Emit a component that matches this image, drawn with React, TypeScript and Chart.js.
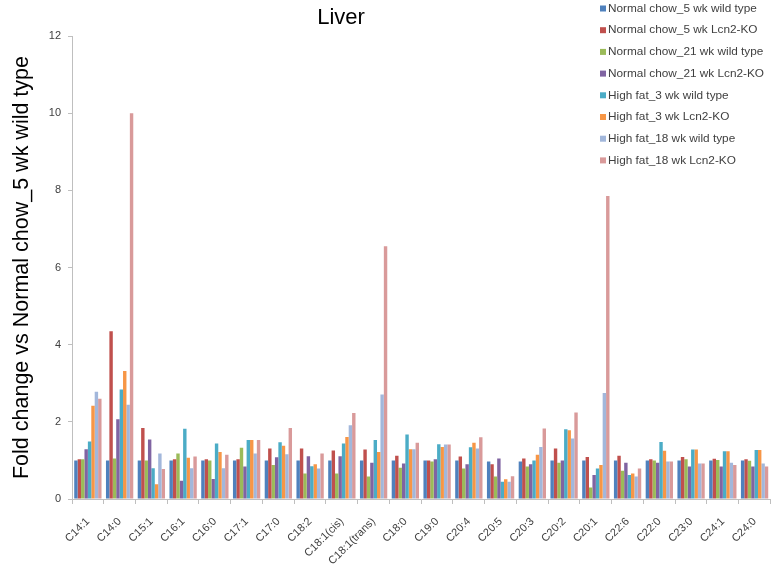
import React, { useEffect, useRef } from 'react';
import { Chart, registerables } from 'chart.js';

Chart.register(...registerables);

const FONT = '"Liberation Sans", Arial, sans-serif';

const categories = [
  'C14:1', 'C14:0', 'C15:1', 'C16:1', 'C16:0', 'C17:1', 'C17:0', 'C18:2',
  'C18:1(cis)', 'C18:1(trans)', 'C18:0', 'C19:0', 'C20:4', 'C20:5', 'C20:3',
  'C20:2', 'C20:1', 'C22:6', 'C22:0', 'C23:0', 'C24:1', 'C24:0',
];

const seriesLabels = [
  'Normal chow_5 wk wild type',
  'Normal chow_5 wk Lcn2-KO',
  'Normal chow_21 wk wild type',
  'Normal chow_21 wk Lcn2-KO',
  'High fat_3 wk wild type',
  'High fat_3 wk Lcn2-KO',
  'High fat_18 wk wild type',
  'High fat_18 wk Lcn2-KO',
];

const seriesColors = [
  '#4F81BD', '#C0504D', '#9BBB59', '#8064A2',
  '#4BACC6', '#F79646', '#A2B7DB', '#D99A9A',
];

const nc5Wt = [1.0, 1.0, 1.0, 1.0, 1.0, 1.0, 1.0, 1.0, 1.0, 1.0, 1.0, 1.0, 1.0, 0.97, 0.97, 1.0, 1.0, 1.0, 1.0, 1.0, 1.0, 1.0];
const nc5Ko = [1.03, 4.35, 1.84, 1.03, 1.03, 1.03, 1.31, 1.31, 1.26, 1.28, 1.12, 1.0, 1.1, 0.9, 1.05, 1.31, 1.09, 1.12, 1.03, 1.09, 1.04, 1.03];
const nc21Wt = [1.03, 1.05, 1.0, 1.18, 1.0, 1.33, 0.88, 0.66, 0.66, 0.58, 0.81, 0.97, 0.79, 0.58, 0.84, 0.94, 0.3, 0.73, 1.0, 1.03, 1.01, 0.99];
const nc21Ko = [1.29, 2.07, 1.54, 0.47, 0.52, 0.84, 1.08, 1.11, 1.11, 0.94, 0.92, 1.03, 0.9, 1.05, 0.9, 1.0, 0.62, 0.94, 0.94, 0.84, 0.84, 0.84];
const hf3Wt = [1.49, 2.84, 0.8, 1.82, 1.44, 1.53, 1.47, 0.85, 1.44, 1.53, 1.67, 1.42, 1.34, 0.45, 1.0, 1.81, 0.79, 0.62, 1.48, 1.28, 1.24, 1.27];
const hf3Ko = [2.42, 3.32, 0.38, 1.07, 1.22, 1.53, 1.38, 0.9, 1.61, 1.22, 1.29, 1.35, 1.46, 0.51, 1.15, 1.78, 0.88, 0.66, 1.25, 1.28, 1.24, 1.27];
const hf18Wt = [2.78, 2.44, 1.18, 0.8, 0.8, 1.18, 1.16, 0.79, 1.91, 2.71, 1.29, 1.41, 1.31, 0.45, 1.35, 1.57, 2.75, 0.58, 0.97, 0.92, 0.94, 0.92];
const hf18Ko = [2.6, 10.0, 0.78, 1.1, 1.15, 1.53, 1.84, 1.18, 2.23, 6.55, 1.46, 1.41, 1.6, 0.59, 1.83, 2.24, 7.85, 0.79, 0.97, 0.92, 0.88, 0.84];

const seriesValues = [nc5Wt, nc5Ko, nc21Wt, nc21Ko, hf3Wt, hf3Ko, hf18Wt, hf18Ko];

const yMin = 0;
const yMax = 12;
const yStep = 2;

const chartTitle = 'Liver';
const yAxisTitle = 'Fold change vs Normal chow_5 wk wild type';

const overlayPlugin = {
  id: 'overlayText',
  afterDraw(chart: any) {
    const ctx = chart.ctx;
    ctx.save();
    // Title
    ctx.font = `22px ${FONT}`;
    ctx.fillStyle = '#000000';
    ctx.textAlign = 'center';
    ctx.textBaseline = 'middle';
    ctx.fillText(chartTitle, 341, 18);
    // Legend
    ctx.font = `11.8px ${FONT}`;
    ctx.textAlign = 'left';
    chart.data.datasets.forEach((ds: any, i: number) => {
      const y = 8.5 + i * 21.7;
      ctx.fillStyle = ds.backgroundColor;
      ctx.fillRect(600, y - 3, 6, 6);
      ctx.fillStyle = '#404040';
      ctx.fillText(ds.label, 608, y);
    });
    ctx.restore();
  },
};

export default function App() {
  const canvasRef = useRef<HTMLCanvasElement | null>(null);

  useEffect(() => {
    if (!canvasRef.current) return;
    const chart = new Chart(canvasRef.current, {
      type: 'bar',
      data: {
        labels: categories,
        datasets: seriesLabels.map((label, i) => ({
          label,
          data: seriesValues[i],
          backgroundColor: seriesColors[i],
          borderWidth: 0,
          categoryPercentage: 0.86,
          barPercentage: 1.0,
        })),
      },
      options: {
        responsive: false,
        animation: false,
        layout: { padding: { top: 36, right: 4, left: 0, bottom: 0 } },
        plugins: {
          legend: { display: false },
          title: { display: false },
          tooltip: { enabled: false },
        },
        scales: {
          x: {
            grid: { drawOnChartArea: false, drawTicks: true, tickLength: 5, color: '#BFBFBF', offset: true },
            border: { color: '#BFBFBF' },
            ticks: {
              minRotation: 45,
              maxRotation: 45,
              autoSkip: false,
              font: { size: 11, family: FONT },
              color: '#404040',
              padding: 11,
            },
            afterFit: (s: any) => { s.height = 72; },
          },
          y: {
            min: yMin,
            max: yMax,
            ticks: { stepSize: yStep, font: { size: 11, family: FONT }, color: '#404040', padding: 7 },
            grid: { drawOnChartArea: false, drawTicks: true, tickLength: 4, color: '#BFBFBF' },
            border: { color: '#BFBFBF' },
            title: {
              display: true,
              text: yAxisTitle,
              font: { size: 21.5, family: FONT },
              color: '#000000',
              padding: { top: 9, bottom: 0 },
            },
            afterFit: (s: any) => { s.width = 72; },
          },
        },
      },
      plugins: [overlayPlugin],
    });
    return () => chart.destroy();
  }, []);

  return (
    <div style={{ position: 'absolute', left: 0, top: 0, width: 775, height: 571, background: '#ffffff' }}>
      <canvas ref={canvasRef} width={775} height={571} />
    </div>
  );
}
